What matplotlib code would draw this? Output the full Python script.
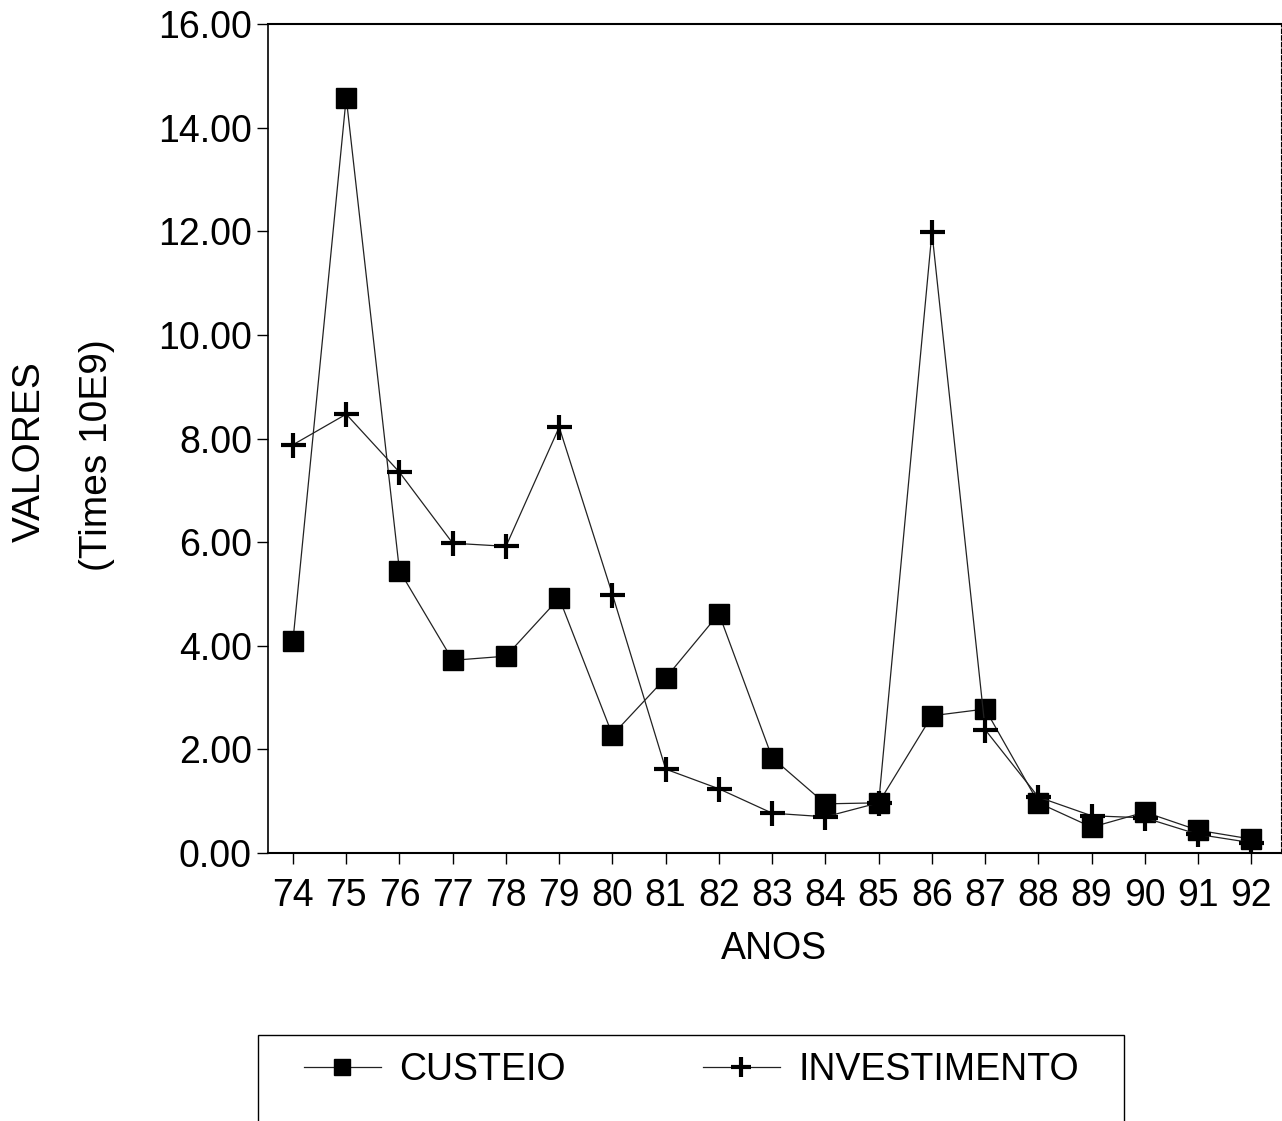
import matplotlib
matplotlib.use("Agg")
import matplotlib.pyplot as plt
from matplotlib.patches import Rectangle

# data (values in 10E9)
anos = [74, 75, 76, 77, 78, 79, 80, 81, 82, 83, 84, 85, 86, 87, 88, 89, 90, 91, 92]
custeio = [4.10, 14.58, 5.45, 3.72, 3.80, 4.92, 2.28, 3.38, 4.62, 1.84,
           0.95, 0.97, 2.65, 2.78, 0.97, 0.50, 0.79, 0.44, 0.27]
investimento = [7.88, 8.47, 7.35, 5.98, 5.92, 8.22, 4.99, 1.62, 1.24, 0.77,
                0.70, 0.97, 11.98, 2.38, 1.08, 0.72, 0.68, 0.36, 0.20]
yticks = [0, 2, 4, 6, 8, 10, 12, 14, 16]

plt.rcParams['font.family'] = ['Liberation Sans', 'DejaVu Sans']

fig = plt.figure(figsize=(12.82, 11.21), dpi=100)
ax = fig.add_axes([0.209, 0.239, 0.790, 0.7396])

l1, = ax.plot(anos, custeio, color='#222222', linewidth=0.9, marker='s',
              markersize=14, markerfacecolor='black', markeredgecolor='black')
l2, = ax.plot(anos, investimento, color='#222222', linewidth=0.9, marker='+',
              markersize=18, markeredgewidth=3, markeredgecolor='black')

ax.set_xlim(73.53, 92.55)
ax.set_ylim(0, 16)
ax.set_xticks(anos)
ax.set_xticklabels([str(a) for a in anos])
ax.set_yticks(yticks)
ax.set_yticklabels(["%.2f" % v for v in yticks])
ax.tick_params(axis='both', labelsize=27, direction='out', length=8, width=1)
ax.tick_params(axis='x', pad=10)

ax.spines['top'].set_linewidth(1.5)
ax.spines['left'].set_linewidth(1.2)
ax.spines['bottom'].set_linewidth(1.5)
ax.spines['right'].set_linewidth(0.8)
ax.spines['right'].set_linestyle((0, (4, 2)))

ax.set_xlabel("ANOS", fontsize=27, labelpad=12)
fig.text(30 / 1282, 1 - 452 / 1121, "VALORES", rotation=90, fontsize=28,
         ha='center', va='center')
fig.text(97 / 1282, 1 - 455 / 1121, "(Times 10E9)", rotation=90, fontsize=28,
         ha='center', va='center')

# legend box runs off the bottom of the page in the scan
fig.patches.append(Rectangle((258 / 1282, -0.05), (1124 - 258) / 1282, 0.0767 + 0.05,
                             transform=fig.transFigure, fill=False,
                             edgecolor='black', linewidth=1.0))
fig.legend([l1, l2], ["CUSTEIO", "INVESTIMENTO"], loc='center left',
           bbox_to_anchor=(270 / 1282, 1 - 1070 / 1121), ncol=2, frameon=False,
           fontsize=27, handlelength=2.05, handletextpad=0.5, columnspacing=3.65,
           markerscale=0.8)

fig.savefig("out.png", dpi=100)
